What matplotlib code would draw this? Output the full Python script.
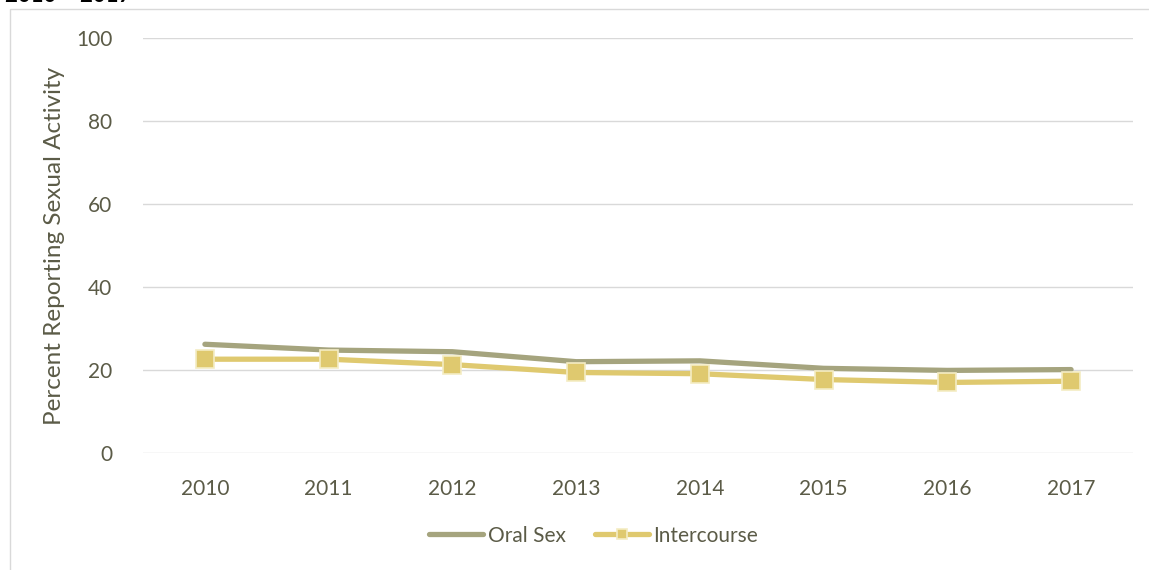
import matplotlib.pyplot as plt
from matplotlib.patches import Rectangle

years = ['2010', '2011', '2012', '2013', '2014', '2015', '2016', '2017']
oral_sex = [26.2, 24.8, 24.4, 22.0, 22.2, 20.4, 19.9, 20.1]
intercourse = [22.6, 22.6, 21.3, 19.4, 19.1, 17.7, 17.0, 17.3]
y_ticks = [0, 20, 40, 60, 80, 100]

plt.rcParams['font.family'] = ['Lato', 'DejaVu Sans']

text_color = '#5b5b47'
grid_color = '#d9d9d9'
fs = 15

fig = plt.figure(figsize=(11.49, 5.70), dpi=100)
ax = fig.add_axes([0.1245, 0.2053, 0.8615, 0.728])

# outer chart frame, cut off by the image edges
fig.patches.append(Rectangle((10 / 1149, -0.05), 1.2, 1 - 9 / 570 + 0.05,
                             transform=fig.transFigure, fill=False,
                             edgecolor=grid_color, linewidth=1))
# heading of the page above the chart, mostly cut off like in the source
fig.text(0.004, 0.9965, '2010 \u2013 2017', fontsize=16, fontweight='bold',
         color='black', va='baseline')

x = range(len(years))
ax.plot(x, oral_sex, color='#a5a47e', linewidth=3.8, solid_capstyle='round',
        label='Oral Sex')
ax.plot(x, intercourse, color='#dfc96f', linewidth=3.8, solid_capstyle='round',
        marker='s', markersize=12.5, markerfacecolor='#dfc96f',
        markeredgecolor='#f4ecc4', markeredgewidth=1.2, label='Intercourse')

ax.set_xlim(-0.5, len(years) - 0.5)
ax.set_ylim(0, 100)
ax.set_xticks(list(x))
ax.set_xticklabels(years)
ax.set_yticks(y_ticks)
ax.yaxis.grid(True, color=grid_color, linewidth=1)
ax.set_axisbelow(True)
for s in ax.spines.values():
    s.set_visible(False)
ax.tick_params(length=0, labelsize=fs, colors=text_color)
ax.tick_params(axis='x', pad=19)
ax.tick_params(axis='y', pad=22)
ax.set_ylabel('Percent Reporting Sexual Activity', fontsize=17.5,
              color=text_color, labelpad=8)

leg = ax.legend(loc='upper center', bbox_to_anchor=(0.455, -0.13), ncol=2,
                frameon=False, fontsize=fs, handlelength=2.6,
                columnspacing=1.4, handletextpad=0.2, markerscale=0.6)
for t in leg.get_texts():
    t.set_color(text_color)

fig.savefig('out.png', dpi=100)
